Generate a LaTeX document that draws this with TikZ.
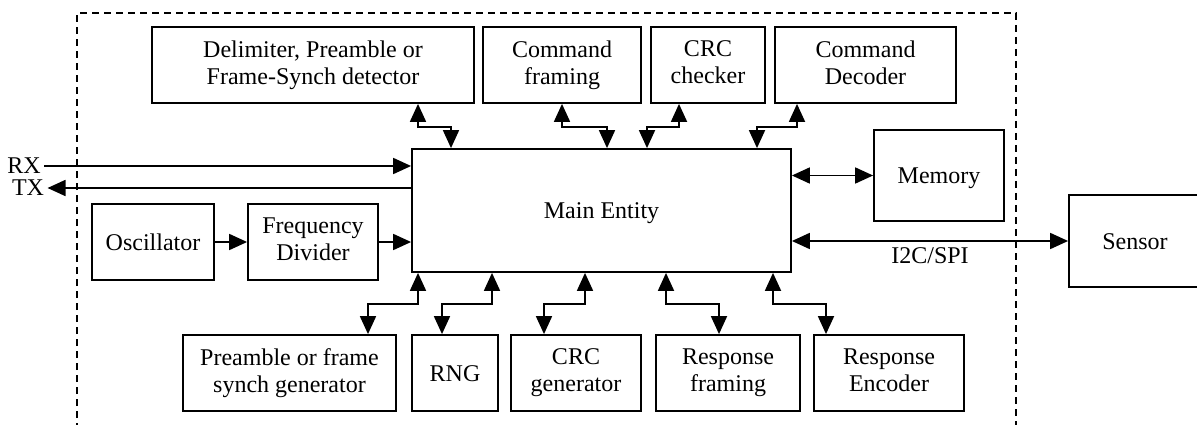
\documentclass[tikz,border=0pt]{standalone}
\usepackage{fontspec}
\setmainfont{Liberation Serif}
\usetikzlibrary{arrows.meta}
\begin{document}
\begin{tikzpicture}[x=1pt,y=-1pt,
  font=\fontsize{24}{27}\selectfont,
  box/.style={draw,line width=1.8pt,rectangle,align=center,inner sep=0pt,
    execute at begin node={\rule{0pt}{21pt}},
    execute at end node={\rule[-5pt]{0pt}{5pt}}},
  conn/.style={line width=1.8pt,-{Triangle[length=18pt 0 0,width=16pt 0 0]}},
  dbl/.style={line width=1.8pt,{Triangle[length=18pt 0 0,width=16pt 0 0]}-{Triangle[length=18pt 0 0,width=16pt 0 0]}},
  frame/.style={dash pattern=on 7pt off 5pt,line width=1.4pt}]
\useasboundingbox (0,0) rectangle (1197,425);
% dashed boundary
\draw[frame] (77,430) -- (77,13) -- (1016,13) -- (1016,430);
% top boxes
\node[box,minimum width=322pt,minimum height=76pt] (delim) at (313,65) {Delimiter, Preamble or\\Frame-Synch detector};
\node[box,minimum width=158pt,minimum height=76pt] (cmdfr) at (562,65) {Command\\framing};
\node[box,minimum width=114pt,minimum height=76pt] (crcchk) at (708,65) {CRC\\checker};
\node[box,minimum width=181pt,minimum height=76pt] (cmddec) at (865.5,65) {Command\\Decoder};
% main
\node[box,minimum width=379pt,minimum height=123pt] (main) at (601.5,210.5) {Main Entity};
% right side
\node[box,minimum width=130pt,minimum height=91pt] (mem) at (939,175.5) {Memory};
\node[box,minimum width=132pt,minimum height=92pt] (sensor) at (1135,241) {Sensor};
% left side
\node[box,minimum width=122pt,minimum height=76pt] (osc) at (153,242) {Oscillator};
\node[box,minimum width=130pt,minimum height=76pt] (fd) at (313,242) {Frequency\\Divider};
\node (rx) at (24,166) {RX};
\node (tx) at (28,188) {TX};
% bottom boxes
\node[box,minimum width=213pt,minimum height=76pt] (pre) at (289.5,373) {Preamble or frame\\synch generator};
\node[box,minimum width=86pt,minimum height=76pt] (rng) at (455,373) {RNG};
\node[box,minimum width=130pt,minimum height=76pt] (crcgen) at (576,373) {CRC\\generator};
\node[box,minimum width=144pt,minimum height=76pt] (respfr) at (728,373) {Response\\framing};
\node[box,minimum width=150pt,minimum height=76pt] (respenc) at (889,373) {Response\\Encoder};
% RX / TX
\draw[conn] (rx.east) -- (rx.east -| main.west);
\draw[conn] (tx.east -| main.west) -- (tx.east);
% clock path
\draw[conn] (osc) -- (fd);
\draw[conn] (fd.east) -- (fd.east -| main.west);
% memory and sensor
\draw[dbl] (mem.west -| main.east) -- (mem.west);
\draw[dbl] (sensor.west -| main.east) -- node[below=2pt] {I2C/SPI} (sensor.west);
% top connectors
\draw[dbl] ([xshift=105pt]delim.south) -- ++(0,23) -| ([xshift=-150.5pt]main.north);
\draw[dbl] ([xshift=0pt]cmdfr.south) -- ++(0,23) -| ([xshift=5.5pt]main.north);
\draw[dbl] ([xshift=-29pt]crcchk.south) -- ++(0,23) -| ([xshift=45.5pt]main.north);
\draw[dbl] ([xshift=-68.5pt]cmddec.south) -- ++(0,23) -| ([xshift=155.5pt]main.north);
% bottom connectors
\draw[dbl] ([xshift=-183.5pt]main.south) -- ++(0,31) -| ([xshift=78.5pt]pre.north);
\draw[dbl] ([xshift=-109.5pt]main.south) -- ++(0,31) -| ([xshift=-13pt]rng.north);
\draw[dbl] ([xshift=-16.5pt]main.south) -- ++(0,31) -| ([xshift=-32pt]crcgen.north);
\draw[dbl] ([xshift=64.5pt]main.south) -- ++(0,31) -| ([xshift=-9pt]respfr.north);
\draw[dbl] ([xshift=171.5pt]main.south) -- ++(0,31) -| ([xshift=-63pt]respenc.north);
\end{tikzpicture}
\end{document}
